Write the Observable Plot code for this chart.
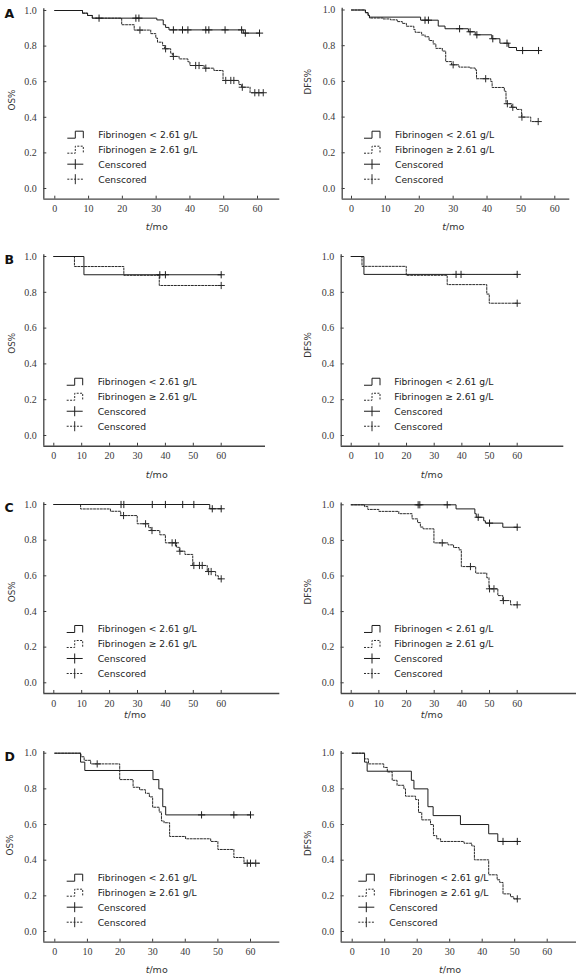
<!DOCTYPE html>
<html><head><meta charset="utf-8">
<script src="https://cdn.jsdelivr.net/npm/d3@7"></script>
<script src="https://cdn.jsdelivr.net/npm/@observablehq/plot@0.6"></script>
<style>
html,body{margin:0;padding:0;background:#fff;}
#chart{position:relative;width:580px;height:976px;overflow:hidden;background:#fff;}
#chart svg{position:absolute;overflow:visible;}
#chart svg g[aria-label$="tick label"] text{font-family:"Liberation Serif","Times New Roman",serif;font-size:10px;}
</style></head><body><div id="chart"></div>
<script>
// ---------- tick labels & legend texts ----------
const xTicks = [0, 10, 20, 30, 40, 50, 60];
const yTicks = [0, 0.2, 0.4, 0.6, 0.8, 1.0];
const legendLabels = ["Fibrinogen < 2.61 g/L", "Fibrinogen \u2265 2.61 g/L", "Censcored", "Censcored"];
const panelLetters = ["A", "B", "C", "D"];
const xLabelMain = "/mo";
const xLabelItalic = "t";

// ---------- data: [time (mo), survival] steps; censored times ----------
// A – OS
const A_OS_low = [[0,1],[8.2,0.985],[9.7,0.972],[11.1,0.957],[30.2,0.947],[32.1,0.92],[32.8,0.905],[33.8,0.891],[55.8,0.873]];
const A_OS_low_cens = [13.1,24,24.9,35.1,37.8,39.4,44.7,45.6,50.4,55.3,56.4,60.6];
const A_OS_high = [[0,1],[8.2,0.985],[9.7,0.972],[11.1,0.957],[19.8,0.92],[23.5,0.89],[28.4,0.87],[29.9,0.845],[30.4,0.822],[31.9,0.803],[32.5,0.785],[34.3,0.76],[34.8,0.742],[36.8,0.728],[39.4,0.712],[40,0.691],[44.2,0.676],[47.1,0.663],[49.8,0.607],[54.5,0.584],[55.3,0.569],[57.8,0.538]];
const A_OS_high_cens = [25.2,32.8,35.1,41.7,42.7,44.7,50.6,52.1,53,55.5,59.2,60.4,61.7];
// A – DFS
const A_DFS_low = [[0,1],[4.1,0.985],[4.9,0.97],[5.3,0.96],[20.4,0.943],[25.6,0.91],[27.6,0.895],[34.5,0.878],[36.5,0.861],[41.4,0.839],[43.8,0.814],[46.4,0.79],[48.7,0.773]];
const A_DFS_low_cens = [21.7,22.7,31.9,35,37,41.7,45.9,50.5,55.2];
const A_DFS_high = [[0,1],[4.1,0.985],[4.9,0.97],[5.3,0.955],[9.3,0.95],[11.5,0.945],[13.5,0.935],[15,0.925],[16.2,0.909],[18.4,0.89],[18.8,0.875],[20.7,0.86],[21.7,0.85],[22.9,0.829],[24.1,0.81],[24.9,0.785],[26.8,0.77],[27.8,0.711],[29.5,0.693],[31.7,0.68],[34.9,0.675],[36.5,0.665],[36.9,0.615],[41.1,0.60],[41.5,0.566],[45.1,0.545],[45.6,0.475],[47.2,0.455],[48.7,0.443],[50.2,0.40],[52.9,0.375]];
const A_DFS_high_cens = [30,39.6,46,47.6,50.3,55.1];
// B – OS
const B_OS_low = [[0,1],[10.8,0.898]];
const B_OS_low_cens = [38,40,60];
const B_OS_high = [[0,1],[7.4,0.944],[25.1,0.895],[37.8,0.838]];
const B_OS_high_cens = [60];
// B – DFS
const B_DFS_low = [[0,1],[4.6,0.9]];
const B_DFS_low_cens = [37.9,39.7,60];
const B_DFS_high = [[0,1],[3.9,0.945],[19.9,0.895],[34.7,0.843],[49,0.79],[49.9,0.739]];
const B_DFS_high_cens = [60];
// C – OS
const C_OS_low = [[0,1],[55.9,0.976]];
const C_OS_low_cens = [24.1,25.1,35.3,40,46.2,50.2,56.8,60];
const C_OS_high = [[0,1],[9.6,0.975],[20.3,0.962],[24,0.938],[29.9,0.892],[34,0.87],[34.9,0.854],[38,0.83],[40,0.785],[44,0.76],[45,0.738],[47,0.72],[49.8,0.658],[55,0.624],[58,0.60],[59,0.583]];
const C_OS_high_cens = [25,32.9,35.2,42.4,43.6,45.2,50.2,52.2,53.2,55.5,56.4,60];
// C – DFS
const C_DFS_low = [[0,1],[37.9,0.977],[44.7,0.95],[45.2,0.93],[47.9,0.91],[48.5,0.897],[54.8,0.874]];
const C_DFS_low_cens = [24.2,24.8,34.7,45.9,50,60];
const C_DFS_high = [[0,1],[4.8,0.99],[6,0.974],[10,0.963],[17.2,0.95],[22,0.921],[24,0.90],[25,0.875],[26,0.865],[29.9,0.786],[35,0.775],[37,0.76],[39,0.747],[39.8,0.653],[45,0.616],[49,0.59],[49.8,0.528],[53,0.49],[54.8,0.462],[57.6,0.438]];
const C_DFS_high_cens = [32.9,43.1,50,51.6,55,60];
// D – OS
const D_OS_low = [[0,1],[7.9,0.95],[9.2,0.903],[30.1,0.852],[31.9,0.80],[33.1,0.70],[34,0.654]];
const D_OS_low_cens = [45,54.9,60];
const D_OS_high = [[0,1],[8,0.98],[9,0.96],[11,0.94],[19.9,0.852],[24,0.809],[26,0.795],[27.8,0.775],[29,0.755],[30,0.697],[32,0.67],[32.7,0.62],[33.5,0.61],[35.2,0.533],[40.1,0.52],[47.8,0.505],[50,0.46],[54.9,0.415],[58,0.383],[63,0.383]];
const D_OS_high_cens = [13,59,60,61.6];
// D – DFS
const D_DFS_low = [[0,1],[3.8,0.95],[4.6,0.899],[18.2,0.848],[19,0.80],[23.3,0.70],[24.9,0.65],[33.3,0.60],[42,0.548],[44.8,0.505]];
const D_DFS_low_cens = [46.4,50.8];
const D_DFS_high = [[0,1],[3.8,0.968],[5,0.94],[9.7,0.92],[10.8,0.895],[12.3,0.848],[13.8,0.82],[15.9,0.80],[16.4,0.759],[19.5,0.74],[20.4,0.668],[21.4,0.626],[24.1,0.60],[25,0.538],[26,0.52],[27.2,0.505],[34.4,0.495],[36.8,0.48],[37.6,0.402],[42,0.318],[44.6,0.29],[45.4,0.275],[46.4,0.211],[48.7,0.195],[49.7,0.183]];
const D_DFS_high_cens = [50.8];

// ---------- layout (page pixel geometry of each panel) ----------
const panels = [
  {letter:0, yLabel:"OS%",  low:A_OS_low,  lowC:A_OS_low_cens,  high:A_OS_high,  highC:A_OS_high_cens,
   svgLeft:0,   svgTop:0,   svgH:244, axisX:43.3,  x0:54.3,  x60:257,   xEnd:279.3, py1:10,    py0:188,   xLabX:156.7, xLabDy:27,   yLabX:11.7,  yLabY:100,   legSym:24,   legText:55},
  {letter:null, yLabel:"DFS%", low:A_DFS_low, lowC:A_DFS_low_cens, high:A_DFS_high, highC:A_DFS_high_cens,
   svgLeft:290, svgTop:0,   svgH:244, axisX:341.7, x0:351,   x60:554.3, xEnd:569.3, py1:9.5,   py0:188,   xLabX:453.3, xLabDy:27,   yLabX:308.3, yLabY:81.7,  legSym:22.3, legText:53.3},
  {letter:1, yLabel:"OS%",  low:B_OS_low,  lowC:B_OS_low_cens,  high:B_OS_high,  highC:B_OS_high_cens,
   svgLeft:0,   svgTop:244, svgH:246, axisX:43.3,  x0:53.3,  x60:220.7, xEnd:265,   py1:256,   py0:435,   xLabX:156.7, xLabDy:28,   yLabX:11.7,  yLabY:343.3, legSym:23.4, legText:54.4},
  {letter:null, yLabel:"DFS%", low:B_DFS_low, lowC:B_DFS_low_cens, high:B_DFS_high, highC:B_DFS_high_cens,
   svgLeft:290, svgTop:244, svgH:246, axisX:340.7, x0:350.7, x60:516.7, xEnd:563.3, py1:256,   py0:435,   xLabX:431.7, xLabDy:28,   yLabX:308.3, yLabY:345,   legSym:23.3, legText:53.6},
  {letter:2, yLabel:"OS%",  low:C_OS_low,  lowC:C_OS_low_cens,  high:C_OS_high,  highC:C_OS_high_cens,
   svgLeft:0,   svgTop:490, svgH:242, axisX:43.3,  x0:53.3,  x60:220.7, xEnd:279.3, py1:504,   py0:682.3, xLabX:135,   xLabDy:21.5, yLabX:11.7,  yLabY:591.7, legSym:23.4, legText:54.4},
  {letter:null, yLabel:"DFS%", low:C_DFS_low, lowC:C_DFS_low_cens, high:C_DFS_high, highC:C_DFS_high_cens,
   svgLeft:290, svgTop:490, svgH:242, axisX:340.7, x0:350.7, x60:516.7, xEnd:576,   py1:504.3, py0:682.3, xLabX:431.7, xLabDy:21.5, yLabX:308.3, yLabY:591.7, legSym:23.3, legText:53.6},
  {letter:3, yLabel:"OS%",  low:D_OS_low,  lowC:D_OS_low_cens,  high:D_OS_high,  highC:D_OS_high_cens,
   svgLeft:0,   svgTop:732, svgH:244, axisX:43.3,  x0:54.3,  x60:250,   xEnd:279.3, py1:752.7, py0:931,   xLabX:156.7, xLabDy:27.6, yLabX:10,    yLabY:845,   legSym:23.4, legText:54.4},
  {letter:null, yLabel:"DFS%", low:D_DFS_low, lowC:D_DFS_low_cens, high:D_DFS_high, highC:D_DFS_high_cens,
   svgLeft:290, svgTop:732, svgH:244, axisX:340.7, x0:351.7, x60:546.7, xEnd:576,   py1:752.7, py0:931,   xLabX:450,   xLabDy:27.6, yLabX:308.3, yLabY:843.3, legSym:17.6, legText:48.6}
];

const SANS = "DejaVu Sans, Verdana, sans-serif";
const SERIF = "Liberation Serif, Times New Roman, serif";
const SOLID = "#1c1c1c";
const DASHC = "#2a2a2a";
const DASH = "2,1.4";

const plusSymbol = {
  draw(context, size) {
    const r = Math.sqrt(size / Math.PI);
    context.moveTo(-r, 0); context.lineTo(r, 0);
    context.moveTo(0, -r); context.lineTo(0, r);
  }
};

function valueAt(steps, t) {
  let v = steps[0][1];
  for (const [st, sv] of steps) if (st <= t) v = sv;
  return v;
}
function linePoints(steps, cens) {
  const pts = steps.map(([t, s]) => ({t, s}));
  const last = steps[steps.length - 1][0];
  const end = Math.max(last, ...cens);
  if (end > last) pts.push({t: end, s: valueAt(steps, end)});
  return pts;
}
function censPoints(steps, cens) {
  return cens.map(t => ({t, s: valueAt(steps, t)}));
}

const chart = document.getElementById("chart");
const W = 290;

for (const p of panels) {
  const k = (p.x60 - p.x0) / 60;
  const xDomain = [(p.axisX - p.x0) / k, (p.xEnd - p.x0) / k];
  const yDomain = [-0.06, 1.01];
  const span = p.py0 - p.py1;
  const top = p.py1 - 0.01 * span;
  const bottom = p.py0 + 0.06 * span;
  const mL = p.axisX - p.svgLeft;
  const mR = p.svgLeft + W - p.xEnd;
  const mT = top - p.svgTop;
  const mB = p.svgTop + p.svgH - bottom;

  const svg = Plot.plot({
    width: W, height: p.svgH,
    marginLeft: mL, marginRight: mR, marginTop: mT, marginBottom: mB,
    style: {background: "transparent", overflow: "visible"},
    x: {domain: xDomain},
    y: {domain: yDomain},
    marks: [
      Plot.axisX({ticks: xTicks, tickSize: -3, tickPadding: 9, tickFormat: d => String(d), label: null,
                  fontFamily: SERIF, fontSize: 10, color: "#3a3a3a", strokeWidth: 1}),
      Plot.axisY({ticks: yTicks, tickSize: -3, tickPadding: 10, tickFormat: d => d.toFixed(1), label: null,
                  fontFamily: SERIF, fontSize: 10, color: "#3a3a3a", strokeWidth: 1}),
      Plot.ruleX([xDomain[0]], {stroke: "#444", strokeWidth: 1.3}),
      Plot.ruleY([yDomain[0]], {stroke: "#444", strokeWidth: 1.3}),
      Plot.line(linePoints(p.high, p.highC), {x: "t", y: "s", curve: "step-after", stroke: DASHC, strokeWidth: 1, strokeDasharray: DASH}),
      Plot.line(linePoints(p.low, p.lowC), {x: "t", y: "s", curve: "step-after", stroke: SOLID, strokeWidth: 1}),
      Plot.dot(censPoints(p.high, p.highC), {x: "t", y: "s", symbol: plusSymbol, r: 3.6, stroke: DASHC, fill: "none", strokeWidth: 1}),
      Plot.dot(censPoints(p.low, p.lowC), {x: "t", y: "s", symbol: plusSymbol, r: 3.6, stroke: SOLID, fill: "none", strokeWidth: 1})
    ]
  });
  svg.style.left = p.svgLeft + "px";
  svg.style.top = p.svgTop + "px";
  chart.appendChild(svg);

  const g = d3.select(svg).append("g").attr("text-anchor", "start");
  const ax = p.axisX - p.svgLeft;      // local x of y-axis
  const ay = bottom - p.svgTop;        // local y of x-axis

  // y-axis title
  g.append("text")
    .attr("transform", `translate(${p.yLabX - p.svgLeft},${p.yLabY - p.svgTop}) rotate(-90)`)
    .attr("text-anchor", "middle").attr("dominant-baseline", "central")
    .attr("font-family", SANS).attr("font-size", 8.8).attr("fill", "#333")
    .text(p.yLabel);

  // x-axis title: italic t + /mo
  const xt = g.append("text")
    .attr("x", p.xLabX - p.svgLeft).attr("y", ay + p.xLabDy)
    .attr("text-anchor", "middle").attr("dominant-baseline", "central")
    .attr("font-family", SANS).attr("font-size", 9.5).attr("fill", "#333");
  xt.append("tspan").attr("font-style", "italic").text(xLabelItalic);
  xt.append("tspan").text(xLabelMain);

  // panel letter
  if (p.letter !== null) {
    g.append("text")
      .attr("x", 4.5).attr("y", p.py1 - p.svgTop + 3.5)
      .attr("text-anchor", "start").attr("dominant-baseline", "central")
      .attr("font-family", SANS).attr("font-weight", "bold").attr("font-size", 12.5).attr("fill", "#111")
      .text(panelLetters[p.letter]);
  }

  // legend
  const rows = [-64, -49, -34.5, -19.5];
  const sx = ax + p.legSym;
  const h = 7, w = 16;
  rows.forEach((dy, i) => {
    const cy = ay + dy;
    const dashed = i % 2 === 1;
    const stroke = dashed ? DASHC : SOLID;
    if (i < 2) {
      g.append("path")
        .attr("d", `M${sx},${cy + h/2} H${sx + w/2} V${cy - h/2} H${sx + w} V${cy + h/2}`)
        .attr("fill", "none").attr("stroke", stroke).attr("stroke-width", 1)
        .attr("stroke-dasharray", dashed ? DASH : null);
    } else {
      g.append("path")
        .attr("d", `M${sx},${cy} H${sx + w}`)
        .attr("fill", "none").attr("stroke", stroke).attr("stroke-width", 1)
        .attr("stroke-dasharray", dashed ? DASH : null);
      g.append("path")
        .attr("d", `M${sx + w/2},${cy - 5} V${cy + 5}`)
        .attr("fill", "none").attr("stroke", stroke).attr("stroke-width", 1);
    }
    g.append("text")
      .attr("x", ax + p.legText).attr("y", cy)
      .attr("text-anchor", "start").attr("dominant-baseline", "central")
      .attr("font-family", SANS).attr("font-size", 9.2).attr("fill", "#222")
      .text(legendLabels[i]);
  });
}
</script>
</body></html>
